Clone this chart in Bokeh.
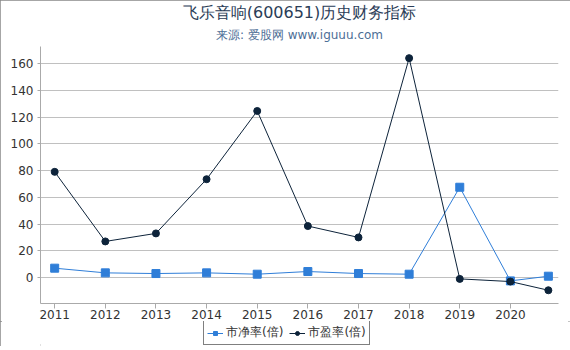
from bokeh.plotting import figure
from bokeh.layouts import column
from bokeh.models import Title, Legend, LegendItem, FixedTicker, Range1d
from bokeh.embed import file_html
from bokeh.resources import INLINE

years = [2011, 2012, 2013, 2014, 2015, 2016, 2017, 2018, 2019, 2020, 2020.75]
tick_years = [2011, 2012, 2013, 2014, 2015, 2016, 2017, 2018, 2019, 2020]
pb = [7, 3.5, 3, 3.5, 2.5, 4.5, 3, 2.5, 67.5, -2.5, 1]
pe = [79, 27, 33, 73.5, 124.5, 38.5, 30, 164, -1, -3, -9.5]
y_ticks = [0, 20, 40, 60, 80, 100, 120, 140, 160]
series_names = ["市净率(倍)", "市盈率(倍)"]

FONT = "DejaVu Sans"
PB_COLOR = "#2f7ed8"
PE_COLOR = "#0d233a"

p = figure(width=570, height=325, output_backend="svg", toolbar_location=None,
           x_range=Range1d(2010.72, 2020.95), y_range=Range1d(-19.4, 172.7),
           frame_width=518, frame_height=257,
           min_border_left=40, min_border_right=12, min_border_top=0, min_border_bottom=0)

p.title.text = "飞乐音响(600651)历史财务指标"
p.title.align = "center"
p.title.text_font = FONT
p.title.text_font_size = "16px"
p.title.text_font_style = "normal"
p.title.text_color = "#2b3d57"
p.title.standoff = 0
p.title.offset = 0
sub = Title(text="来源: 爱股网 www.iguuu.com", align="center", text_font=FONT,
            text_font_size="12px", text_font_style="normal", text_color="#4d6e96",
            standoff=9)
p.add_layout(sub, "above")

p.xaxis.ticker = FixedTicker(ticks=tick_years)
p.yaxis.ticker = FixedTicker(ticks=y_ticks)
p.xaxis.minor_tick_line_color = None
p.yaxis.minor_tick_line_color = None
for ax in (p.xaxis, p.yaxis):
    ax.axis_line_color = "#aaaaaa"
    ax.major_tick_line_color = "#aaaaaa"
    ax.major_label_text_font = FONT
    ax.major_label_text_font_size = "12px"
    ax.major_label_text_color = "#333333"
p.xaxis.major_tick_out = 5
p.xaxis.major_tick_in = 0
p.yaxis.major_tick_out = 3
p.yaxis.major_tick_in = 0
p.yaxis.major_label_standoff = 4
p.xaxis.major_label_standoff = 1

p.xgrid.grid_line_color = None
p.ygrid.grid_line_color = "#c0c0c0"
p.ygrid.grid_line_width = 1
p.outline_line_color = None

p.line(years, pb, line_color=PB_COLOR, line_width=1)
p.scatter(years, pb, marker="square", size=8, fill_color=PB_COLOR, line_color=PB_COLOR)
p.line(years, pe, line_color=PE_COLOR, line_width=1)
p.scatter(years, pe, marker="circle", size=7, fill_color=PE_COLOR, line_color=PE_COLOR)

# legend strip below the chart
p2 = figure(width=570, height=25, output_backend="svg", toolbar_location=None,
            x_range=Range1d(0, 570), y_range=Range1d(0, 25),
            frame_width=570, frame_height=25,
            x_axis_location=None, y_axis_location=None,
            min_border_left=0, min_border_right=0, min_border_top=0, min_border_bottom=0)
p2.grid.visible = False
p2.outline_line_color = None
off = [-100, -90]
k1 = p2.line(off, off, line_color=PB_COLOR, line_width=1)
m1 = p2.scatter(off, off, marker="square", size=8, fill_color=PB_COLOR, line_color=PB_COLOR)
k2 = p2.line(off, off, line_color=PE_COLOR, line_width=1)
m2 = p2.scatter(off, off, marker="circle", size=7, fill_color=PE_COLOR, line_color=PE_COLOR)

legend = Legend(items=[LegendItem(label=series_names[0], renderers=[k1, m1]),
                       LegendItem(label=series_names[1], renderers=[k2, m2])],
                orientation="horizontal", location=(203, 1),
                border_line_color="#000000", border_line_width=1,
                label_text_font=FONT, label_text_font_size="12px", label_text_color="#333333",
                label_height=14, glyph_width=16, glyph_height=10, label_standoff=3, spacing=6,
                padding=3, margin=0)
p2.add_layout(legend, "center")

layout = column(p, p2, spacing=0)
layout.styles = {"outline": "2px solid #888888", "outline-offset": "-2px"}

open("out.html", "w").write(file_html(layout, INLINE))
